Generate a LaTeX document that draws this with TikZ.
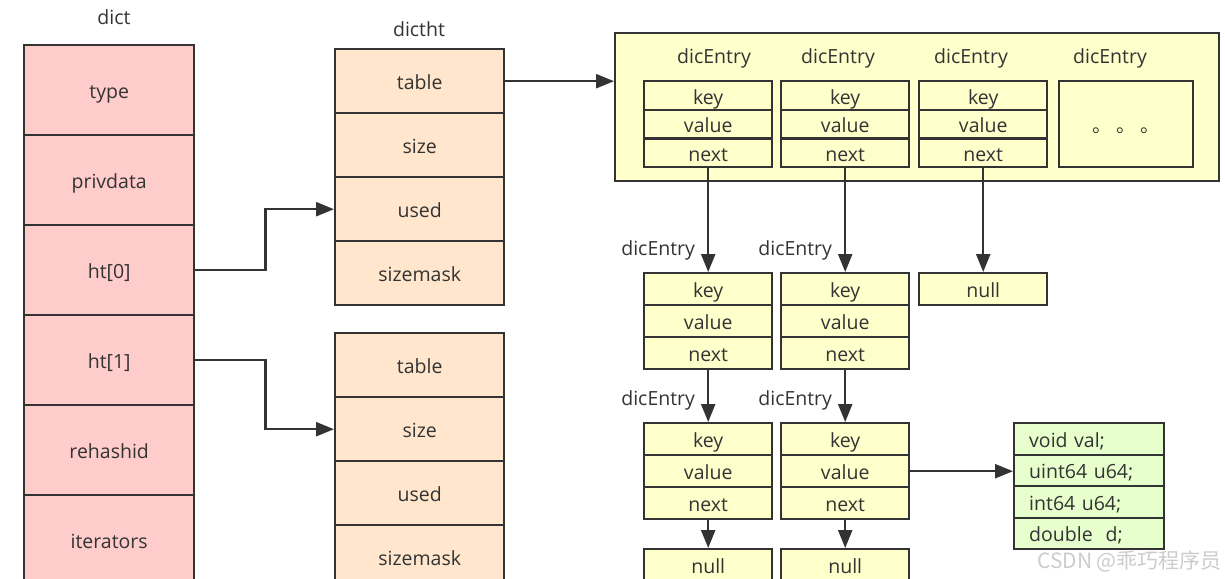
\documentclass[tikz,border=0pt]{standalone}
\usepackage{fontspec}
\setmainfont{Open Sans}
\newfontfamily\cjk{Noto Sans CJK SC}
\usetikzlibrary{arrows.meta,positioning}
\definecolor{dictpink}{HTML}{FFCCCC}
\definecolor{htpeach}{HTML}{FFE6CC}
\definecolor{entryyellow}{HTML}{FFFFCC}
\definecolor{valgreen}{HTML}{E6FFCC}
\definecolor{linegray}{HTML}{333333}
\begin{document}
\begin{tikzpicture}[x=1pt,y=-1pt,font=\fontsize{19.5}{23}\selectfont,text=linegray,
  box/.style={draw=linegray,line width=2.4pt,inner sep=0pt,text height=17pt,text depth=0pt,anchor=north west},
  conn/.style={draw=linegray,line width=2.4pt,-{Triangle[length=18pt,width=14pt]}},
  lbl/.style={left=12pt,inner sep=0pt}]
  \useasboundingbox (0,0) rectangle (1225,578);
  \clip (0,0) rectangle (1225,578);
  % dict
  \node (dictlbl) at (114,17) {dict};
  \foreach \n/\t [count=\i from 0] in {type/type,priv/privdata,ht0/ht[0],ht1/ht[1],rehash/rehashid,iter/iterators}
    \node[box,fill=dictpink,minimum width=170pt,minimum height=90pt] (d-\n) at (23,{44+90*\i}) {\t};
  % dictht
  \node (htlbl) at (419,29) {dictht};
  \foreach \k/\y in {1/48,2/332}
    \foreach \n/\t [count=\i from 0] in {table/table,size/size,used/used,mask/sizemask}
      \node[box,fill=htpeach,minimum width=169pt,minimum height=64pt] (h\k-\n) at (334,{\y+64*\i}) {\t};
  \draw[conn] (d-ht0.east) -- ++(70,0) |- (h1-used.west);
  \draw[conn] (d-ht1.east) -- ++(70,0) |- (h2-size.west);
  % table
  \node[box,fill=entryyellow,minimum width=604pt,minimum height=148pt] (bucket) at (614,32) {};
  \draw[conn] (h1-table.east) -- (h1-table.east -| bucket.west);
  \foreach \c/\x/\lx in {1/643/714,2/780/838,3/918/971}{
    \node (t\c-lbl) at (\lx,58) {dicEntry};
    \foreach \n [count=\i from 0] in {key,value,next}
      \node[box,fill=entryyellow,minimum width=128pt,minimum height=28.67pt] (t\c-\n) at (\x,{80+28.67*\i}) {\n};
  }
  \node (t4-lbl) at (1110,58) {dicEntry};
  \node[box,fill=entryyellow,minimum width=134pt,minimum height=86pt] (t4) at (1058,80) {\cjk 。 。 。};
  % chains
  \foreach \c/\x in {1/643,2/780}{
    \foreach \n [count=\i from 0] in {key,value,next}{
      \node[box,fill=entryyellow,minimum width=128pt,minimum height=32pt] (m\c-\n) at (\x,{272+32*\i}) {\n};
      \node[box,fill=entryyellow,minimum width=128pt,minimum height=32pt] (b\c-\n) at (\x,{422+32*\i}) {\n};
    }
    \node[box,fill=entryyellow,minimum width=128pt,minimum height=32pt] (b\c-null) at (\x,548) {null};
  }
  \node[box,fill=entryyellow,minimum width=128pt,minimum height=32pt] (m3-null) at (918,272) {null};
  \draw[conn] (t1-next.south) -- node[lbl,pos=0.79] {dicEntry} (m1-key.north);
  \draw[conn] (t2-next.south) -- node[lbl,pos=0.79] {dicEntry} (m2-key.north);
  \draw[conn] (t3-next.south) -- (m3-null.north);
  \draw[conn] (m1-next.south) -- node[lbl,pos=0.59] {dicEntry} (b1-key.north);
  \draw[conn] (m2-next.south) -- node[lbl,pos=0.59] {dicEntry} (b2-key.north);
  \draw[conn] (b1-next.south) -- (b1-null.north);
  \draw[conn] (b2-next.south) -- (b2-null.north);
  % value union
  \foreach \t [count=\i from 0] in {void val;,uint64 u64;,int64 u64;,double\ \ d;}
    \node[box,fill=valgreen,minimum width=150pt,minimum height=31.5pt,text width=120pt,align=left] (v\i) at (1013,{422+31.5*\i}) {\t};
  \draw[conn] (b2-value.east) -- (v1.west |- b2-value.east);
  \node[anchor=east,inner sep=0pt,text=gray!40,font=\cjk\fontsize{21}{23}\selectfont] (mark) at (1222,561) {CSDN @乖巧程序员};
\end{tikzpicture}
\end{document}
